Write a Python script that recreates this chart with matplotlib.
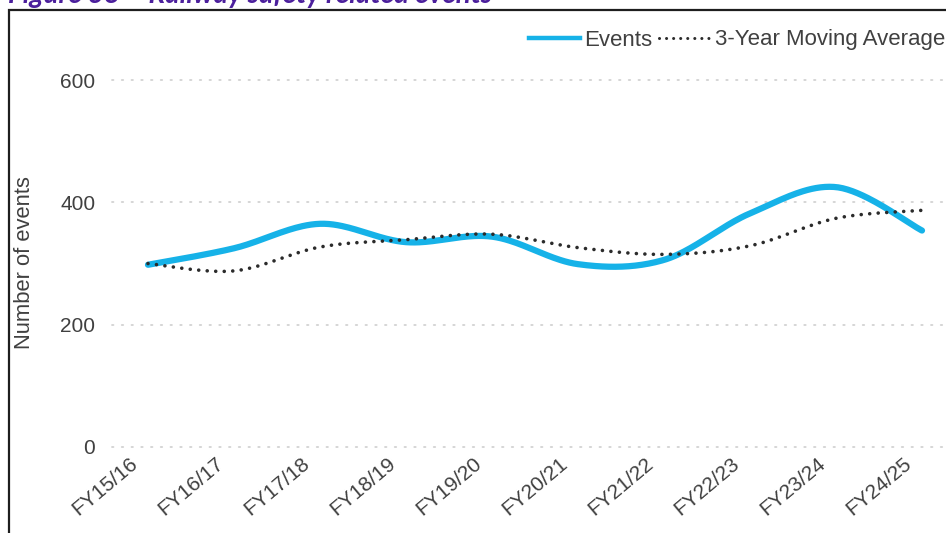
import numpy as np
import matplotlib
matplotlib.use("Agg")
import matplotlib.pyplot as plt
from matplotlib.lines import Line2D
from matplotlib.patches import Rectangle

# Financial years and event counts
years = ["FY15/16", "FY16/17", "FY17/18", "FY18/19", "FY19/20",
         "FY20/21", "FY21/22", "FY22/23", "FY23/24", "FY24/25"]
events = [298, 325, 365, 335, 344, 299, 306, 382, 425, 354]
moving_avg = [300, 288, 327, 339, 348, 326, 315, 329, 374, 387]
y_ticks = [0, 200, 400, 600]

EVENTS_COLOR = "#16B2E8"
TEXT_COLOR = "#404040"
FONT = "Liberation Sans"

W, H = 946, 533
fig = plt.figure(figsize=(W / 100, H / 100), dpi=100)

# plot area in pixel terms
left_px, right_px = 112, 946
top_px, bottom_px = 40, 450
ax = fig.add_axes([left_px / W, 1 - bottom_px / H,
                   (right_px - left_px) / W, (bottom_px - top_px) / H])

x_step_px = 86.0
y_px_per_unit = 122.3 / 200.0
xmin = -(148 - left_px) / x_step_px
xmax = xmin + (right_px - left_px) / x_step_px
ymin = -(bottom_px - 447) / y_px_per_unit
ymax = ymin + (bottom_px - top_px) / y_px_per_unit


def smooth(xs, ys, n=40):
    """Bezier smoothing through the points (Excel-style smoothed line)."""
    px = np.asarray(xs, float) * x_step_px
    py = np.asarray(ys, float) * y_px_per_unit
    pts = np.column_stack([px, py])
    out = [pts[0]]
    for i in range(len(pts) - 1):
        p0 = pts[i - 1] if i > 0 else pts[i]
        p1 = pts[i]
        p2 = pts[i + 1]
        p3 = pts[i + 2] if i + 2 < len(pts) else pts[i + 1]
        c1 = p1 + (p2 - p0) / 6.0
        c2 = p2 - (p3 - p1) / 6.0
        t = np.linspace(0, 1, n)[1:, None]
        seg = ((1 - t) ** 3) * p1 + 3 * ((1 - t) ** 2) * t * c1 \
            + 3 * (1 - t) * t ** 2 * c2 + t ** 3 * p2
        out.extend(seg)
    out = np.array(out)
    return out[:, 0] / x_step_px, out[:, 1] / y_px_per_unit


xi = np.arange(len(years))

# gridlines
for yt in y_ticks:
    ax.plot([xmin, xmax], [yt, yt], color="#D2D2D2", lw=1.3,
            linestyle=(0, (0.8, 4.6)), dash_capstyle="round", zorder=1,
            clip_on=False)

sx, sy = smooth(xi, events)
ax.plot(sx, sy, color=EVENTS_COLOR, lw=4.5, solid_capstyle="round",
        solid_joinstyle="round", zorder=3)
mx, my = smooth(xi, moving_avg)
ax.plot(mx, my, color="#2B2B2B", lw=2.6, linestyle=(0, (0.01, 2.35)),
        dash_capstyle="round", zorder=4)

ax.set_xlim(xmin, xmax)
ax.set_ylim(ymin, ymax)
ax.set_yticks(y_ticks)
ax.set_yticklabels([str(v) for v in y_ticks], fontsize=15, color=TEXT_COLOR,
                   family=FONT)
ax.set_xticks(xi)
ax.set_xticklabels([])
# rotated category labels, set slightly left of each category
for i, name in enumerate(years):
    ax.annotate(name, xy=(i, 0), xycoords=("data", "axes fraction"),
                xytext=(-19, -4), textcoords="offset pixels",
                rotation=40, ha="right", va="top", rotation_mode="anchor",
                fontsize=15, color=TEXT_COLOR, family=FONT,
                annotation_clip=False)
ax.tick_params(axis="both", length=0)
ax.tick_params(axis="y", pad=12)
for s in ax.spines.values():
    s.set_visible(False)
ax.patch.set_alpha(0)

fig.text(24 / W, 1 - 263 / H, "Number of events", rotation=90, ha="center",
         va="center", fontsize=15.8, color=TEXT_COLOR, family=FONT)

# legend
handles = [Line2D([], [], color=EVENTS_COLOR, lw=3.2),
           Line2D([], [], color="#2B2B2B", lw=2.2, linestyle=(0, (0.01, 2.3)),
                  dash_capstyle="round")]
fig.legend(handles, ["Events", "3-Year Moving Average"], loc="center right",
           bbox_to_anchor=(945 / W, 1 - 40 / H), ncol=2, frameon=False,
           prop={"family": FONT, "size": 16}, labelcolor=TEXT_COLOR,
           handlelength=2.3, handletextpad=0.2, columnspacing=0.3,
           borderpad=0, borderaxespad=0)

# chart frame
fig.patches.append(Rectangle((9 / W, -0.1), 1.2, 1 - 10 / H + 0.1,
                             transform=fig.transFigure, fill=False,
                             edgecolor="#1E1E1E", lw=1.6, zorder=10))

# caption above the frame
fig.text(8 / W, 1 - 3 / H, "Figure 38 \u2013 Railway safety related events",
         ha="left", va="baseline", fontsize=20, color="#4B1F9C",
         fontweight="bold", fontstyle="italic", family="Lato")

fig.savefig("out.png", dpi=100)
